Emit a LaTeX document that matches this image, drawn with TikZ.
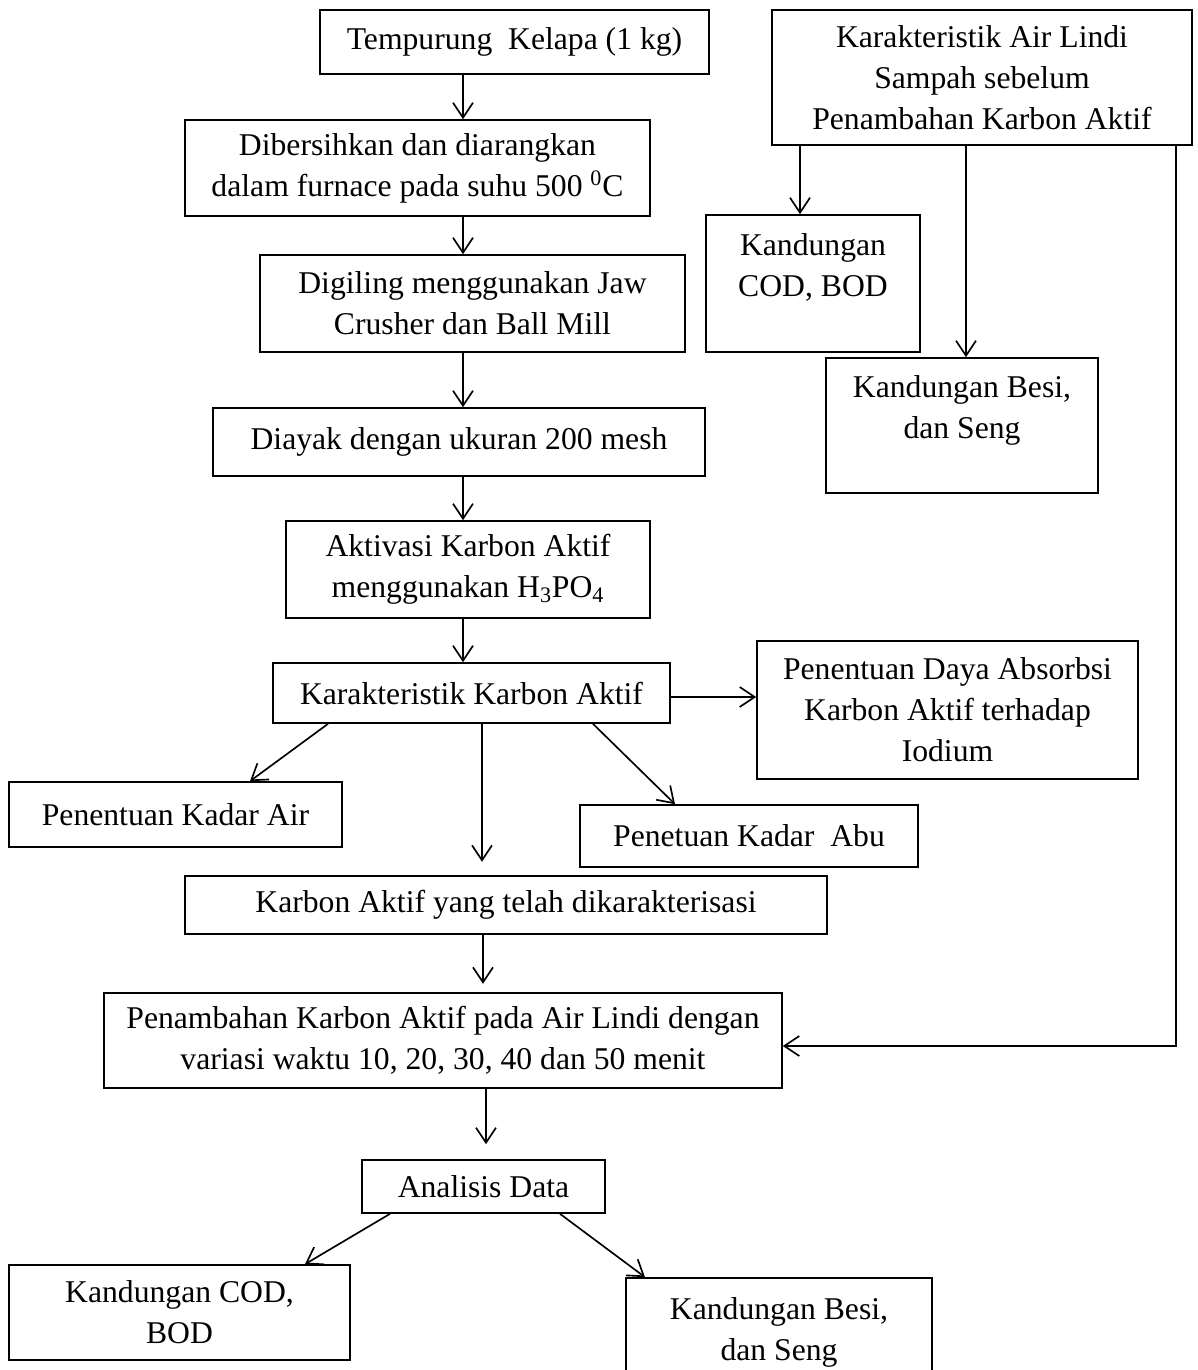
\documentclass[tikz,border=0pt]{standalone}
\usepackage{fontspec}
\setmainfont{Liberation Serif}
\usetikzlibrary{arrows.meta}
\newcommand\fsz{\fontsize{19}{24.6}\selectfont}
\def\u{0.6pt}
\tikzset{
  box/.style={draw, line width=1pt, align=center, inner sep=0pt, font=\fsz},
  arr/.style={-{Straight Barb[length=9pt,width=12pt,line width=1pt]}, line width=1pt},
}
\begin{document}
\begin{tikzpicture}[x=0.6pt,y=-0.6pt]
\clip (0,0) rectangle (1198,1370);
\fill[white] (0,0) rectangle (1198,1370);
% left column
\node[box, minimum width=389*\u, minimum height=64*\u] (n1) at (514.5,42) {Tempurung~~Kelapa (1 kg)};
\node[box, minimum width=465*\u, minimum height=96*\u] (n2) at (417.5,168) {Dibersihkan dan diarangkan\\dalam furnace pada suhu 500 \textsuperscript{0}C};
\node[box, minimum width=425*\u, minimum height=97*\u] (n3) at (472.5,303.5) {Digiling menggunakan Jaw\\Crusher dan Ball Mill};
\node[box, minimum width=492*\u, minimum height=68*\u] (n4) at (459,442) {Diayak dengan ukuran 200 mesh};
\node[box, minimum width=364*\u, minimum height=97*\u] (n5) at (468,569.5) {Aktivasi Karbon Aktif\\menggunakan H\textsubscript{3}PO\textsubscript{4}};
\node[box, minimum width=397*\u, minimum height=60*\u] (n6) at (471.5,693) {Karakteristik Karbon Aktif};
\node[box, minimum width=381*\u, minimum height=138*\u] (n7) at (947.5,710) {Penentuan Daya Absorbsi\\Karbon Aktif terhadap\\Iodium};
\node[box, minimum width=333*\u, minimum height=65*\u] (n8) at (175.5,814.5) {Penentuan Kadar Air};
\node[box, minimum width=338*\u, minimum height=62*\u] (n9) at (749,836) {Penetuan Kadar~~Abu};
\node[box, minimum width=642*\u, minimum height=58*\u] (n10) at (506,905) {Karbon Aktif yang telah dikarakterisasi};
\node[box, minimum width=678*\u, minimum height=95*\u] (n11) at (443,1040.5) {Penambahan Karbon Aktif pada Air Lindi dengan\\variasi waktu 10, 20, 30, 40 dan 50 menit};
\node[box, minimum width=243*\u, minimum height=53*\u] (n12) at (483.5,1186.5) {Analisis Data};
\node[box, minimum width=341*\u, minimum height=95*\u] (n13) at (179.5,1312.5) {Kandungan COD,\\BOD};
\node[box, minimum width=306*\u, minimum height=132*\u] (n14) at (779,1344) {Kandungan Besi,\\dan Seng\\[-14pt]\strut};
% right column
\node[box, minimum width=420*\u, minimum height=135*\u] (n15) at (982,77.5) {Karakteristik Air Lindi\\Sampah sebelum\\Penambahan Karbon Aktif};
\node[box, minimum width=214*\u, minimum height=137*\u] (n16) at (813,283.5) {Kandungan\\COD, BOD\\[-10pt]\strut};
\node[box, minimum width=272*\u, minimum height=135*\u] (n17) at (962,425.5) {Kandungan Besi,\\dan Seng\\[-10pt]\strut};
% column coordinates
\coordinate (cA) at (463,0);
% main flow arrows
\draw[arr] (n1.south -| cA) -- (n2.north -| cA);
\draw[arr] (n2.south -| cA) -- (n3.north -| cA);
\draw[arr] (n3.south -| cA) -- (n4.north -| cA);
\draw[arr] (n4.south -| cA) -- (n5.north -| cA);
\draw[arr] (n5.south -| cA) -- (n6.north -| cA);
\draw[arr] (n6.east |- 0,697) -- (n7.west |- 0,697);
\draw[arr] (n6.south -| 328,0) -- (n8.north -| 250,0);
\draw[arr] (n6.south -| 593,0) -- (n9.north -| 675,0);
\draw[arr, shorten >=8pt] (n6.south -| 482,0) -- (n10.north -| 482,0);
\draw[arr, shorten >=5pt] (n10.south -| 483,0) -- (n11.north -| 483,0);
\draw[arr, shorten >=9pt] (n11.south -| 486,0) -- (n12.north -| 486,0);
\draw[arr] (n12.south -| 390,0) -- (n13.north -| 305,0);
\draw[arr] (n12.south -| 560,0) -- (n14.north -| 645,0);
% right flow
\draw[arr] (n15.south -| 800,0) -- (n16.north -| 800,0);
\draw[arr] (n15.south -| 966,0) -- (n17.north -| 966,0);
\coordinate (turn) at (1176,1046);
\draw[arr] (n15.south -| turn) -- (turn) -- (n11.east |- turn);
\end{tikzpicture}
\end{document}
